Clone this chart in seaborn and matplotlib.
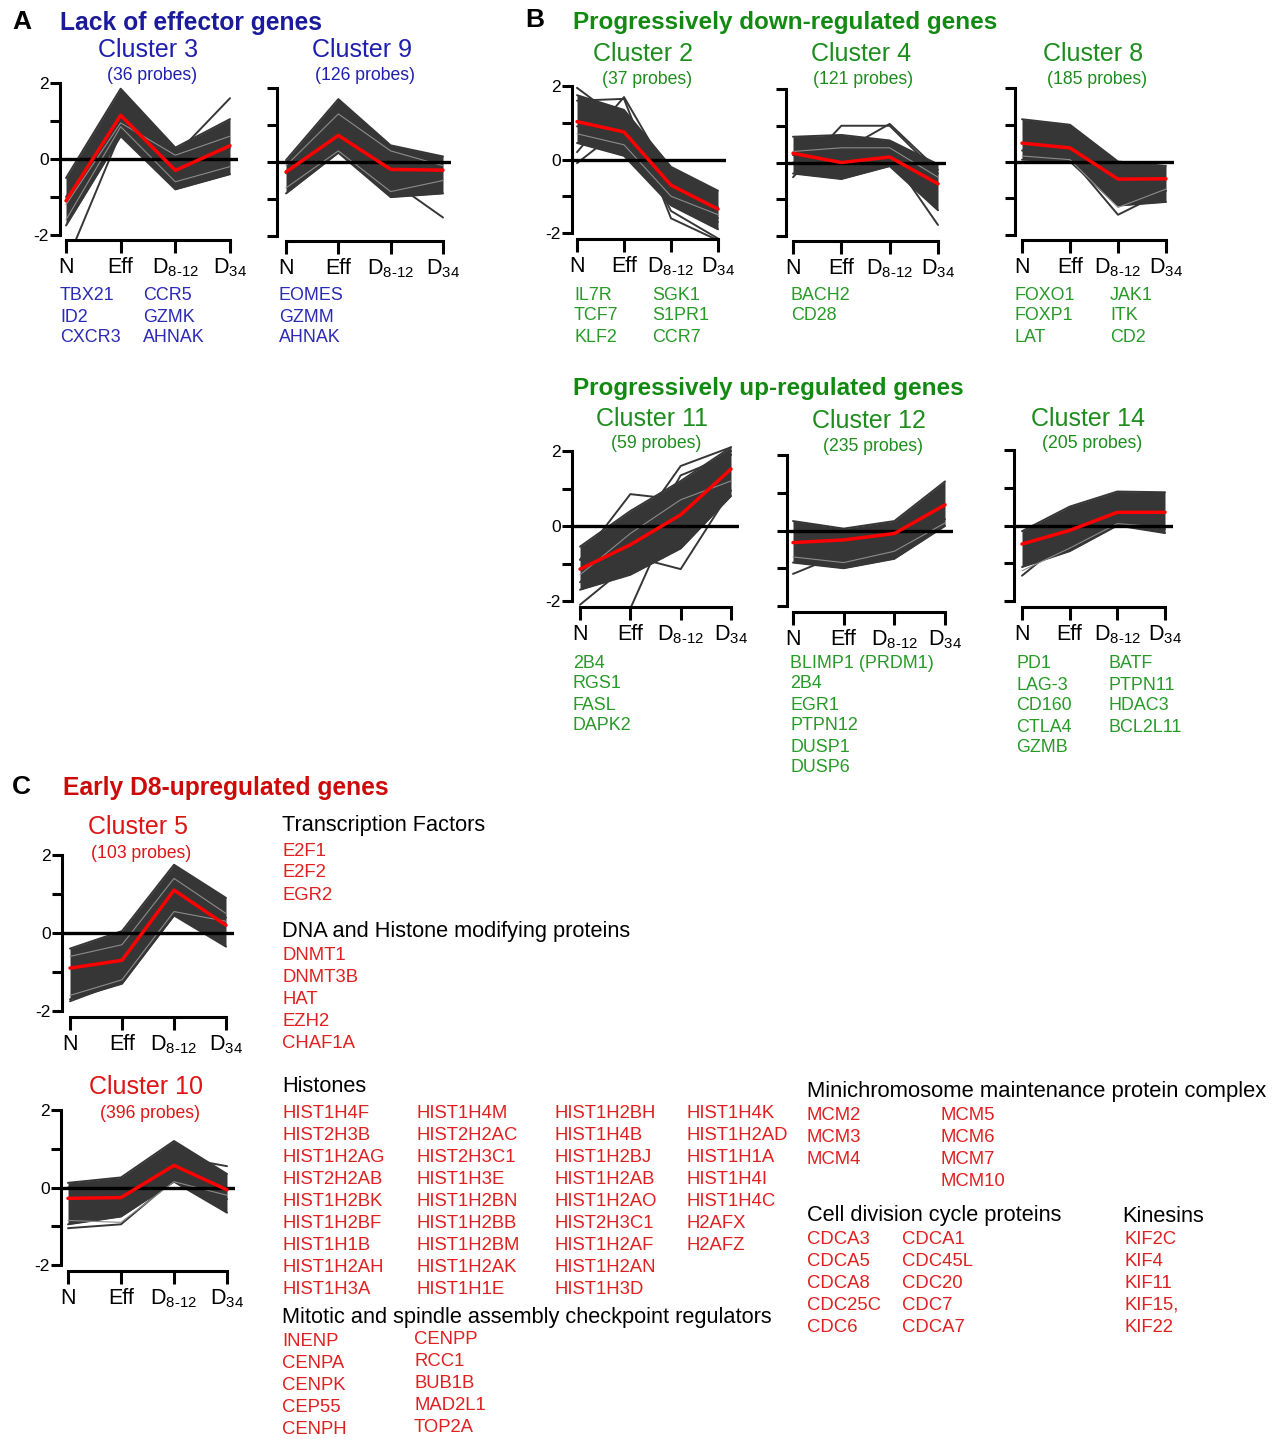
import matplotlib
matplotlib.use('Agg')
import matplotlib.pyplot as plt
import seaborn as sns
import pandas as pd

W, H = 1276, 1439

stages = ['N', 'Eff', 'D$_{\\mathregular{8\u201012}}$', 'D$_{\\mathregular{34}}$']

# mean profile (red), band of probes (upper/lower), a few stray probes and a few pale ones, per cluster
c3_mean = [-1.1, 1.15, -0.3, 0.35]
c3_upper = [-0.5, 1.85, 0.3, 1.05]
c3_lower = [-1.75, 0.6, -0.8, -0.4]
c3_probes = [[-2.75, 0.7, -0.5, 0.3], [-1.0, 1.2, 0.1, 1.6]]
c3_light = [[-1.6, 0.85, -0.6, -0.2], [-1.2, 0.95, 0.1, 0.6]]

c9_mean = [-0.27, 0.72, -0.2, -0.22]
c9_upper = [0.05, 1.7, 0.45, 0.15]
c9_lower = [-0.85, 0.25, -0.95, -0.85]
c9_probes = [[-0.3, 0.9, -0.5, -1.5]]
c9_light = [[-0.7, 0.3, -0.8, -0.5], [-0.1, 1.3, 0.3, -0.1]]

c2_mean = [1.03, 0.75, -0.7, -1.35]
c2_upper = [1.75, 1.35, -0.2, -0.85]
c2_lower = [0.45, 0.1, -1.25, -1.9]
c2_probes = [[1.95, 1.0, -0.6, -1.6], [0.2, 1.7, -0.5, -1.3], [-0.1, 0.9, -1.0, -1.7],
             [1.6, 1.65, -1.6, -2.2], [0.9, 1.1, -1.4, -2.15]]
c2_light = [[0.7, 0.4, -1.0, -1.5]]

c4_mean = [0.25, 0.0, 0.15, -0.58]
c4_upper = [0.7, 0.75, 0.6, -0.05]
c4_lower = [-0.3, -0.45, -0.1, -1.3]
c4_probes = [[-0.4, 1.0, 1.0, -0.3], [0.2, 0.3, 1.05, -0.2], [0.0, -0.2, 0.2, -1.7]]
c4_light = [[0.3, 0.4, 0.4, -0.4]]

c8_mean = [0.5, 0.37, -0.48, -0.47]
c8_upper = [1.15, 1.0, 0.0, -0.12]
c8_lower = [0.05, 0.0, -1.2, -1.1]
c8_probes = [[0.3, 0.1, -1.45, -0.8]]
c8_light = [[0.15, 0.05, -1.25, -0.75]]

c11_mean = [-1.15, -0.5, 0.3, 1.52]
c11_upper = [-0.55, 0.4, 1.2, 2.1]
c11_lower = [-1.7, -1.3, -0.6, 0.8]
c11_probes = [[-0.9, 0.85, 0.7, 1.9], [-2.2, -2.2, 0.8, 2.0], [-1.5, -0.3, 1.6, 2.1],
              [-0.9, -0.8, -1.15, 0.95], [-2.1, -1.0, 1.35, 1.9]]
c11_light = [[-1.3, -0.2, 0.7, 1.2]]

c12_mean = [-0.32, -0.25, -0.08, 0.68]
c12_upper = [0.25, 0.05, 0.25, 1.3]
c12_lower = [-0.85, -1.0, -0.75, 0.12]
c12_probes = [[-1.15, -0.6, -0.5, 0.3]]
c12_light = [[-0.7, -0.85, -0.55, 0.2]]

c14_mean = [-0.49, -0.13, 0.35, 0.35]
c14_upper = [-0.15, 0.5, 0.9, 0.88]
c14_lower = [-1.1, -0.68, 0.0, -0.2]
c14_probes = [[-1.33, -0.3, 0.1, -0.1]]
c14_light = [[-1.2, -0.6, 0.05, -0.05]]

c5_mean = [-0.9, -0.7, 1.1, 0.2]
c5_upper = [-0.4, 0.05, 1.75, 0.9]
c5_lower = [-1.7, -1.3, 0.45, -0.35]
c5_probes = [[-1.75, -1.25, 0.45, 0.4]]
c5_light = [[-1.6, -1.2, 0.55, 0.3], [-0.6, -0.3, 1.4, 0.5]]

c10_mean = [-0.28, -0.26, 0.57, -0.06]
c10_upper = [0.12, 0.26, 1.2, 0.35]
c10_lower = [-0.95, -0.75, 0.15, -0.65]
c10_probes = [[-1.05, -0.95, 0.2, -0.3], [0.0, 0.1, 0.8, 0.55]]
c10_light = [[-0.85, -0.9, 0.15, -0.2]]

# gene lists
c3_genes = [['TBX21', 'ID2', 'CXCR3'], ['CCR5', 'GZMK', 'AHNAK']]
c9_genes = [['EOMES', 'GZMM', 'AHNAK']]
c2_genes = [['IL7R', 'TCF7', 'KLF2'], ['SGK1', 'S1PR1', 'CCR7']]
c4_genes = [['BACH2', 'CD28']]
c8_genes = [['FOXO1', 'FOXP1', 'LAT'], ['JAK1', 'ITK', 'CD2']]
c11_genes = [['2B4', 'RGS1', 'FASL', 'DAPK2']]
c12_genes = [['BLIMP1 (PRDM1)', '2B4', 'EGR1', 'PTPN12', 'DUSP1', 'DUSP6']]
c14_genes = [['PD1', 'LAG-3', 'CD160', 'CTLA4', 'GZMB'], ['BATF', 'PTPN11', 'HDAC3', 'BCL2L11']]

tf_genes = ['E2F1', 'E2F2', 'EGR2']
dna_genes = ['DNMT1', 'DNMT3B', 'HAT', 'EZH2', 'CHAF1A']
histone_genes = [
    ['HIST1H4F', 'HIST2H3B', 'HIST1H2AG', 'HIST2H2AB', 'HIST1H2BK', 'HIST1H2BF', 'HIST1H1B', 'HIST1H2AH', 'HIST1H3A'],
    ['HIST1H4M', 'HIST2H2AC', 'HIST2H3C1', 'HIST1H3E', 'HIST1H2BN', 'HIST1H2BB', 'HIST1H2BM', 'HIST1H2AK', 'HIST1H1E'],
    ['HIST1H2BH', 'HIST1H4B', 'HIST1H2BJ', 'HIST1H2AB', 'HIST1H2AO', 'HIST2H3C1', 'HIST1H2AF', 'HIST1H2AN', 'HIST1H3D'],
    ['HIST1H4K', 'HIST1H2AD', 'HIST1H1A', 'HIST1H4I', 'HIST1H4C', 'H2AFX', 'H2AFZ'],
]
mitotic_genes = [['INENP', 'CENPA', 'CENPK', 'CEP55', 'CENPH'], ['CENPP', 'RCC1', 'BUB1B', 'MAD2L1', 'TOP2A']]
mcm_genes = [['MCM2', 'MCM3', 'MCM4'], ['MCM5', 'MCM6', 'MCM7', 'MCM10']]
cdc_genes = [['CDCA3', 'CDCA5', 'CDCA8', 'CDC25C', 'CDC6'], ['CDCA1', 'CDC45L', 'CDC20', 'CDC7', 'CDCA7']]
kinesin_genes = ['KIF2C', 'KIF4', 'KIF11', 'KIF15,', 'KIF22']

BLUE_H, BLUE, BLUE_G = '#1a1a9a', '#1f1fae', '#2a2ab4'
GREEN_H, GREEN, GREEN_G = '#128a12', '#1d8d1d', '#279a27'
RED_H, RED, RED_G = '#cc0a0a', '#dd1515', '#e02020'
BUNDLE = '#363636'
PALE = '#8c8c8c'

sns.set_style('ticks')
plt.rcParams['font.family'] = ['Liberation Sans', 'DejaVu Sans']
plt.rcParams['mathtext.fontset'] = 'custom'
plt.rcParams['mathtext.rm'] = 'Liberation Sans'
plt.rcParams['mathtext.it'] = 'Liberation Sans:italic'
plt.rcParams['mathtext.bf'] = 'Liberation Sans:bold'
plt.rcParams['axes.edgecolor'] = 'black'
plt.rcParams['xtick.color'] = 'black'
plt.rcParams['ytick.color'] = 'black'
plt.rcParams['text.color'] = 'black'

fig = plt.figure(figsize=(W / 100, H / 100), dpi=100)


def put(x, y, s, size, color, weight='normal', ha='left'):
    fig.text(x / W, 1 - y / H, s, fontsize=size, color=color, fontweight=weight,
             ha=ha, va='center')


def gene_columns(cols, xs, y0, color, size=12.9, step=21):
    for col, x in zip(cols, xs):
        for i, g in enumerate(col):
            put(x, y0 + i * step, g, size, color)


def probe_frame(lines):
    rows = []
    for k, p in enumerate(lines):
        for x, v in enumerate(p):
            rows.append({'probe': k, 'x': x, 'value': v})
    return pd.DataFrame(rows)


def cluster_axes(spine_x, x0, x3, y2, ym2, base, mean, upper, lower, probes, light, ylabels):
    ppx = (x3 - x0) / 3.0
    ppy = (ym2 - y2) / 4.0
    right = x3 + 8
    top = y2 - 14
    ax = fig.add_axes([spine_x / W, 1 - base / H, (right - spine_x) / W, (base - top) / H])
    ax.set_facecolor('none')
    xs = [0, 1, 2, 3]
    ax.fill_between(xs, lower, upper, color=BUNDLE, lw=0, zorder=1)
    sns.lineplot(data=probe_frame(probes + [upper, lower]), x='x', y='value', units='probe',
                 estimator=None, color=BUNDLE, lw=1.4, ax=ax, zorder=2)
    sns.lineplot(data=probe_frame(light), x='x', y='value', units='probe',
                 estimator=None, color=PALE, lw=0.8, ax=ax, zorder=2)
    ax.axhline(0, color='black', lw=2.4, zorder=3)
    sns.lineplot(x=xs, y=mean, color='#ff0000', lw=2.5, ax=ax, zorder=4)
    ax.set_xlim((spine_x - x0) / ppx, (right - x0) / ppx)
    ax.set_ylim(-2 - (base - ym2) / ppy, 2 + (y2 - top) / ppy)
    for s in ['top', 'right']:
        ax.spines[s].set_visible(False)
    ax.spines['left'].set_bounds(-2, 2)
    ax.spines['bottom'].set_bounds(0, 3)
    ax.spines['left'].set_linewidth(2.2)
    ax.spines['bottom'].set_linewidth(2.2)
    ax.set_xticks(xs)
    ax.set_xticklabels(stages, fontsize=15.5)
    ax.set_yticks([-2, -1, 0, 1, 2])
    ax.set_yticklabels(['-2', '', '0', '', '2'] if ylabels else [''] * 5, fontsize=12.5)
    ax.tick_params(axis='x', direction='out', length=9, width=2.2, pad=3, colors='black')
    ax.tick_params(axis='y', direction='out', length=7, width=2.2, pad=1, colors='black')
    ax.set_xlabel('')
    ax.set_ylabel('')
    ax.grid(False)
    return ax


# ---- A ----
put(12, 22, 'A', 19, 'black', 'bold')
put(60, 23, 'Lack of effector genes', 17.7, BLUE_H, 'bold')
cluster_axes(60, 66, 230, 83, 235, 240, c3_mean, c3_upper, c3_lower, c3_probes, c3_light, True)
cluster_axes(277, 286, 443, 88, 236, 241, c9_mean, c9_upper, c9_lower, c9_probes, c9_light, False)
put(148, 50, 'Cluster 3', 18, BLUE, ha='center')
put(152, 76, '(36 probes)', 12.7, BLUE, ha='center')
put(362, 50, 'Cluster 9', 18, BLUE, ha='center')
put(365, 76, '(126 probes)', 12.7, BLUE, ha='center')
gene_columns(c3_genes, [60, 143], 296, BLUE_G)
gene_columns(c9_genes, [279], 296, BLUE_G)

# ---- B ----
put(525, 20, 'B', 19, 'black', 'bold')
put(573, 22, 'Progressively down-regulated genes', 17.5, GREEN_H, 'bold')
cluster_axes(572, 577, 718, 86, 233, 239, c2_mean, c2_upper, c2_lower, c2_probes, c2_light, True)
cluster_axes(786, 793, 938, 89, 236, 241, c4_mean, c4_upper, c4_lower, c4_probes, c4_light, False)
cluster_axes(1015, 1022, 1166, 88, 235, 240, c8_mean, c8_upper, c8_lower, c8_probes, c8_light, False)
put(643, 54, 'Cluster 2', 18, GREEN, ha='center')
put(647, 80, '(37 probes)', 12.7, GREEN, ha='center')
put(861, 54, 'Cluster 4', 18, GREEN, ha='center')
put(863, 80, '(121 probes)', 12.7, GREEN, ha='center')
put(1093, 54, 'Cluster 8', 18, GREEN, ha='center')
put(1097, 80, '(185 probes)', 12.7, GREEN, ha='center')
gene_columns(c2_genes, [574, 652], 295, GREEN_G)
gene_columns(c4_genes, [791], 295, GREEN_G)
gene_columns(c8_genes, [1014, 1110], 295, GREEN_G)

put(573, 388, 'Progressively up-regulated genes', 17.5, GREEN_H, 'bold')
cluster_axes(572, 580, 731, 451, 601, 607, c11_mean, c11_upper, c11_lower, c11_probes, c11_light, True)
cluster_axes(787, 793, 945, 455, 606, 612, c12_mean, c12_upper, c12_lower, c12_probes, c12_light, False)
cluster_axes(1014, 1022, 1165, 450, 601, 607, c14_mean, c14_upper, c14_lower, c14_probes, c14_light, False)
put(652, 419, 'Cluster 11', 18, GREEN, ha='center')
put(656, 444, '(59 probes)', 12.7, GREEN, ha='center')
put(869, 421, 'Cluster 12', 18, GREEN, ha='center')
put(873, 446, '(235 probes)', 12.7, GREEN, ha='center')
put(1088, 419, 'Cluster 14', 18, GREEN, ha='center')
put(1092, 444, '(205 probes)', 12.7, GREEN, ha='center')
gene_columns(c11_genes, [573], 663, GREEN_G)
gene_columns(c12_genes, [790], 663, GREEN_G)
gene_columns(c14_genes, [1016, 1108], 664, GREEN_G)

# ---- C ----
put(12, 787, 'C', 19, 'black', 'bold')
put(63, 788, 'Early D8-upregulated genes', 17.7, RED_H, 'bold')
cluster_axes(62, 70, 226, 855, 1011, 1017, c5_mean, c5_upper, c5_lower, c5_probes, c5_light, True)
cluster_axes(61, 68, 227, 1110, 1265, 1271, c10_mean, c10_upper, c10_lower, c10_probes, c10_light, True)
put(138, 827, 'Cluster 5', 18, RED, ha='center')
put(141, 853, '(103 probes)', 12.7, RED, ha='center')
put(146, 1087, 'Cluster 10', 18, RED, ha='center')
put(150, 1113, '(396 probes)', 12.7, RED, ha='center')

put(282, 826, 'Transcription Factors', 15.7, 'black')
gene_columns([tf_genes], [282], 851, RED_G, 13.3, 22)
put(282, 932, 'DNA and Histone modifying proteins', 15.7, 'black')
gene_columns([dna_genes], [282], 956, RED_G, 13.3, 22)
put(282, 1086, 'Histones', 15.7, 'black')
gene_columns(histone_genes, [282, 417, 554, 686], 1113, RED_G, 13.3, 22)
put(282, 1318, 'Mitotic and spindle assembly checkpoint regulators', 15.7, 'black')
gene_columns(mitotic_genes[:1], [282], 1342, RED_G, 13.3, 22)
gene_columns(mitotic_genes[1:], [414], 1339, RED_G, 13.3, 22)
put(807, 1092, 'Minichromosome maintenance protein complex', 15.8, 'black')
gene_columns(mcm_genes, [807, 940], 1116, RED_G, 13.3, 22)
put(807, 1216, 'Cell division cycle proteins', 15.7, 'black')
gene_columns(cdc_genes, [807, 902], 1240, RED_G, 13.3, 22)
put(1122, 1216, 'Kinesins', 15.7, 'black')
gene_columns([kinesin_genes], [1125], 1239, RED_G, 13.3, 22)

fig.savefig('out.png', dpi=100)
